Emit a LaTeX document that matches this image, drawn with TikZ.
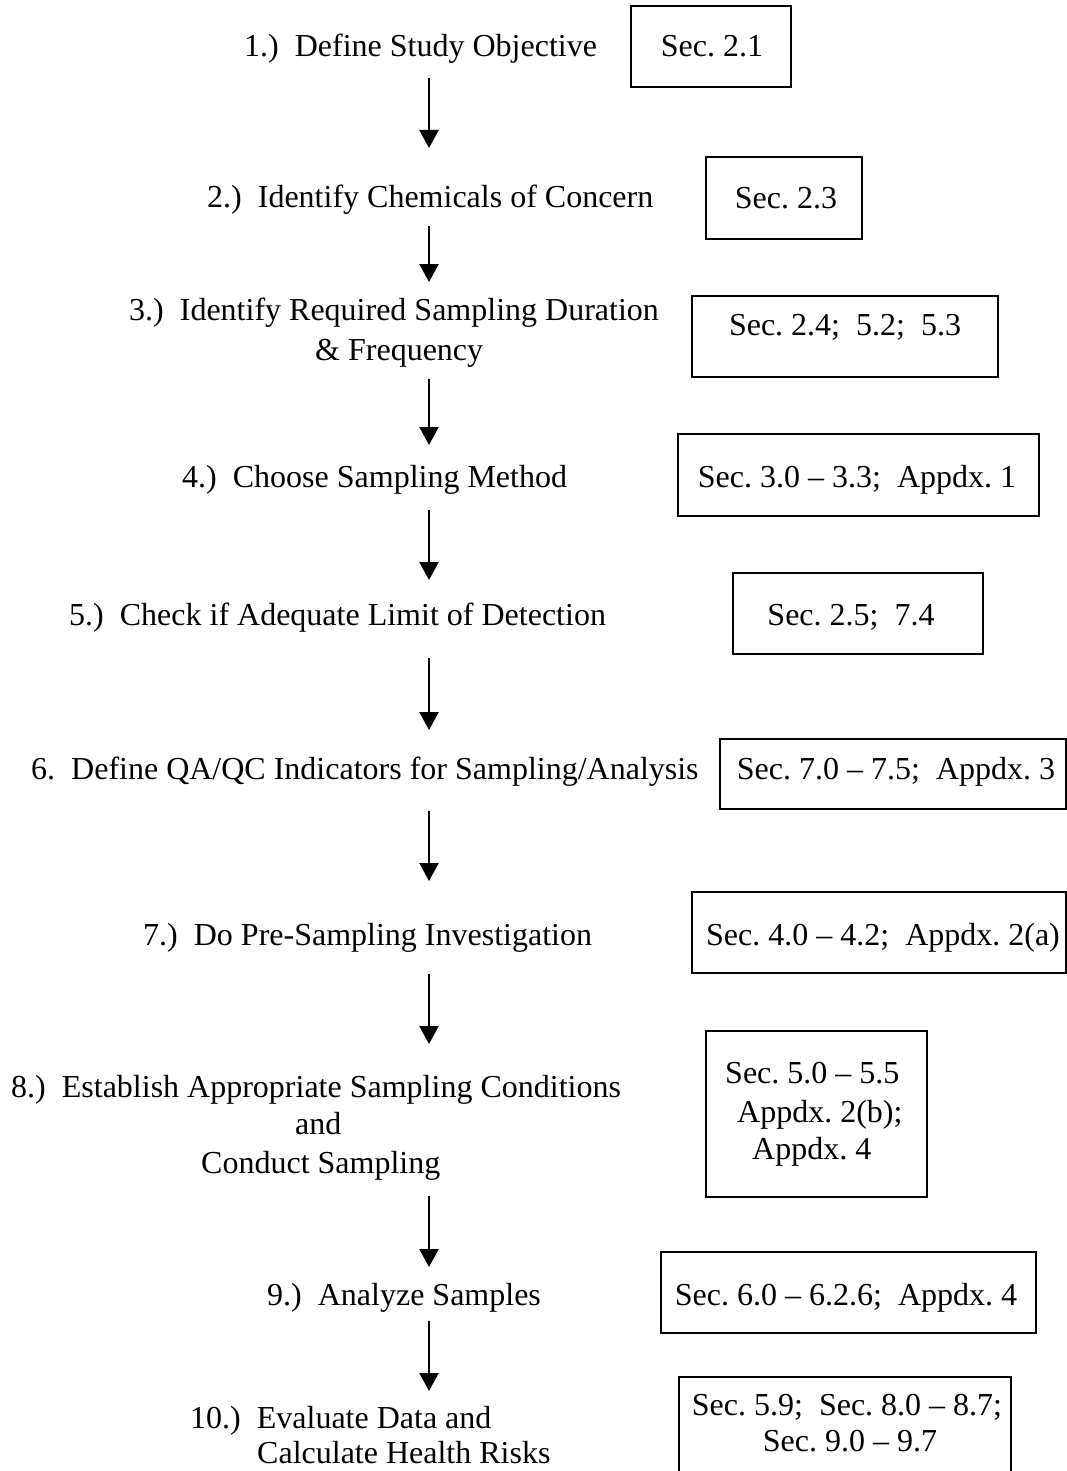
\documentclass[tikz,border=0pt]{standalone}
\usepackage{fontspec}
\setmainfont{Liberation Serif}
\usetikzlibrary{arrows.meta}
\tikzset{
  steptxt/.style={anchor=base west, inner sep=0pt, font=\fontsize{32}{38}\selectfont},
  sectxt/.style={anchor=base, inner sep=0pt, font=\fontsize{32}{38}\selectfont},
  sectxtl/.style={anchor=base west, inner sep=0pt, font=\fontsize{32}{38}\selectfont},
  secbox/.style={draw, line width=2.2pt, rectangle, inner sep=0pt},
  flow/.style={line width=2.2pt, -{Triangle[length=18pt,width=19pt]}}
}
\frenchspacing
\begin{document}
\begin{tikzpicture}[x=1pt,y=-1pt]
\useasboundingbox (0,0) rectangle (1067,1471);
\begin{scope}
\clip (0,0) rectangle (1067,1471);
% boxes
\node[secbox, minimum width=160pt, minimum height=81pt] (b1) at (711,46.5) {};
\node[secbox, minimum width=156pt, minimum height=82pt] (b2) at (784,198) {};
\node[secbox, minimum width=306pt, minimum height=81pt] (b3) at (845,336.5) {};
\node[secbox, minimum width=361pt, minimum height=82pt] (b4) at (858.5,475) {};
\node[secbox, minimum width=250pt, minimum height=81pt] (b5) at (858,613.5) {};
\node[secbox, minimum width=346pt, minimum height=70pt] (b6) at (893,774) {};
\node[secbox, minimum width=374pt, minimum height=81pt] (b7) at (879,932.5) {};
\node[secbox, minimum width=221pt, minimum height=166pt] (b8) at (816.5,1114) {};
\node[secbox, minimum width=375pt, minimum height=81pt] (b9) at (848.5,1292.5) {};
\node[secbox, minimum width=332pt, minimum height=123pt] (b10) at (845,1438.5) {};
\end{scope}
% box texts
\node[sectxt] (s1) at (712,57) {Sec. 2.1};
\node[sectxt] (s2) at (786,209) {Sec. 2.3};
\node[sectxt] (s3) at (845,335) {Sec. 2.4;\ \ 5.2;\ \ 5.3};
\node[sectxt] (s4) at (857,487) {Sec. 3.0 -- 3.3;\ \ Appdx. 1};
\node[sectxt] (s5) at (851,625) {Sec. 2.5;\ \ 7.4};
\node[sectxt] (s6) at (896,779) {Sec. 7.0 -- 7.5;\ \ Appdx. 3};
\node[sectxt] (s7) at (883,945) {Sec. 4.0 -- 4.2;\ \ Appdx. 2(a)};
\node[sectxtl] (s8a) at (725,1083) {Sec. 5.0 -- 5.5};
\node[sectxtl] (s8b) at (737,1122) {Appdx. 2(b);};
\node[sectxtl] (s8c) at (752,1159) {Appdx. 4};
\node[sectxt] (s9) at (846,1305) {Sec. 6.0 -- 6.2.6;\ \ Appdx. 4};
\node[sectxt] (s10a) at (847,1415) {Sec. 5.9;\ \ Sec. 8.0 -- 8.7;};
\node[sectxt] (s10b) at (850,1451) {Sec. 9.0 -- 9.7};
% step texts
\node[steptxt] (t1) at (244,57) {1.)\ \ Define Study Objective};
\node[steptxt] (t2) at (207,208) {2.)\ \ Identify Chemicals of Concern};
\node[steptxt] (t3a) at (129,320) {3.)\ \ Identify Required Sampling Duration};
\node[steptxt] (t3b) at (315,360) {\& Frequency};
\node[steptxt] (t4) at (182,487) {4.)\ \ Choose Sampling Method};
\node[steptxt] (t5) at (69,625) {5.)\ \ Check if Adequate Limit of Detection};
\node[steptxt] (t6) at (31,779) {6.\ \ Define QA/QC Indicators for Sampling/Analysis};
\node[steptxt] (t7) at (143,945) {7.)\ \ Do Pre-Sampling Investigation};
\node[steptxt] (t8a) at (11,1097) {8.)\ \ Establish Appropriate Sampling Conditions};
\node[steptxt] (t8b) at (295,1134) {and};
\node[steptxt] (t8c) at (201,1173) {Conduct Sampling};
\node[steptxt] (t9) at (267,1305) {9.)\ \ Analyze Samples};
\node[steptxt] (t10a) at (190,1428) {10.)\ \ Evaluate Data and};
\node[steptxt] (t10b) at (257,1463) {Calculate Health Risks};
% arrow end points
\coordinate (a1s) at (429,78);   \coordinate (a1e) at (429,148);
\coordinate (a2s) at (429,226);  \coordinate (a2e) at (429,282);
\coordinate (a3s) at (429,379);  \coordinate (a3e) at (429,445);
\coordinate (a4s) at (429,510);  \coordinate (a4e) at (429,580);
\coordinate (a5s) at (429,658);  \coordinate (a5e) at (429,730);
\coordinate (a6s) at (429,811);  \coordinate (a6e) at (429,881);
\coordinate (a7s) at (429,974);  \coordinate (a7e) at (429,1044);
\coordinate (a8s) at (429,1196); \coordinate (a8e) at (429,1267);
\coordinate (a9s) at (429,1321); \coordinate (a9e) at (429,1391);
\draw[flow] (a1s) -- (a1e);
\draw[flow] (a2s) -- (a2e);
\draw[flow] (a3s) -- (a3e);
\draw[flow] (a4s) -- (a4e);
\draw[flow] (a5s) -- (a5e);
\draw[flow] (a6s) -- (a6e);
\draw[flow] (a7s) -- (a7e);
\draw[flow] (a8s) -- (a8e);
\draw[flow] (a9s) -- (a9e);
\end{tikzpicture}
\end{document}
